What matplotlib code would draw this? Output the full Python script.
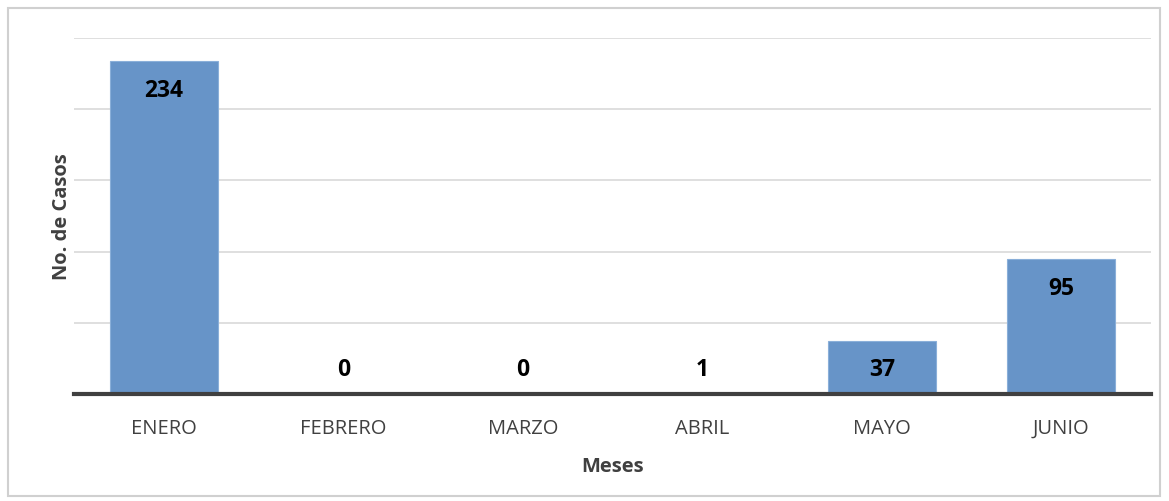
import matplotlib
matplotlib.use("Agg")
import matplotlib.pyplot as plt
from matplotlib.patches import Rectangle

months = ["ENERO", "FEBRERO", "MARZO", "ABRIL", "MAYO", "JUNIO"]
cases = [234, 0, 0, 1, 37, 95]
yticks = [0, 50, 100, 150, 200, 250]

plt.rcParams['font.family'] = ['Open Sans', 'DejaVu Sans']

fig = plt.figure(figsize=(11.69, 5.02), dpi=100)
fig.patches.append(Rectangle((8/1169, 1 - 497/502), 1152/1169, 488/502,
                             transform=fig.transFigure, fill=False,
                             edgecolor='#D0D0D0', linewidth=1.5))

ax = fig.add_axes([74/1169, 107/502, 1077/1169, 356/502])
x = range(len(months))
ax.bar(x, cases, width=0.6, color='#6794C8', edgecolor='#8AAFD9', linewidth=0.8, zorder=3)
ax.set_xlim(-0.5, len(months) - 0.5)
ax.set_ylim(0, 250)
ax.set_yticks(yticks)
ax.set_yticklabels([])
ax.tick_params(axis='y', length=0)
ax.tick_params(axis='x', length=0, labelsize=14.5, colors='#404040', pad=17)
ax.set_xticks(list(x))
ax.set_xticklabels(months)
ax.grid(axis='y', color='#D9D9D9', linewidth=1.2, zorder=0)
for s in ['top', 'right', 'left']:
    ax.spines[s].set_visible(False)
ax.spines['bottom'].set_color('#404040')
ax.spines['bottom'].set_linewidth(3)
ax.spines['bottom'].set_zorder(4)

for xi, v in zip(x, cases):
    ypos = max(v - 20.5, 17.5)
    ax.text(xi, ypos, str(v), ha='center', va='center', fontsize=16.5,
            fontweight='bold', color='black', zorder=5)

ax.set_xlabel("Meses", fontsize=14.5, fontweight='bold', color='#404040', labelpad=13)
ax.set_ylabel("No. de Casos", fontsize=14.5, fontweight='bold', color='#404040', labelpad=-2)

fig.savefig("out.png", dpi=100)
